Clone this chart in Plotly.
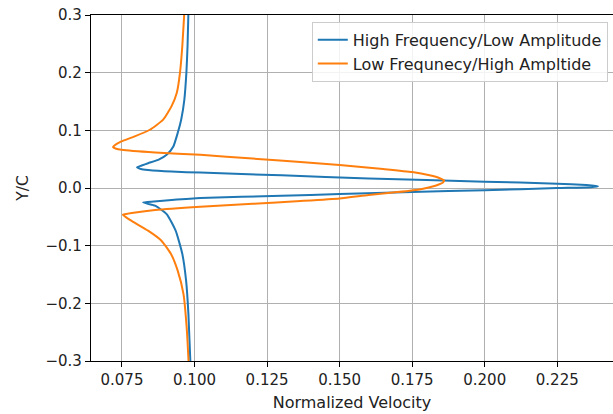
import plotly.graph_objects as go

# Velocity profiles across the wake (normalized velocity vs. Y/C)
hf_y = [0.305, 0.2466, 0.200, 0.1534, 0.1185, 0.0953, 0.072, 0.0575, 0.0487, 0.043,
        0.0390, 0.0360, 0.0330, 0.0313, 0.0284, 0.0267, 0.0220, 0.0165, 0.0110,
        0.0075, 0.0050, 0.0032, 0.0015, 0.0000, -0.0040, -0.0068, -0.0105,
        -0.0135, -0.0175, -0.0210, -0.0235, -0.0250, -0.0275, -0.0307, -0.0452,
        -0.074, -0.1145, -0.1607, -0.2185, -0.305]
hf_x = [0.0979, 0.0976, 0.0972, 0.0965, 0.0954, 0.0942, 0.0927, 0.0904, 0.0875, 0.0840,
        0.0818, 0.0802, 0.0815, 0.0840, 0.0921, 0.1020, 0.1300, 0.1600, 0.2000,
        0.2250, 0.2350, 0.2390, 0.2365, 0.2250, 0.2000, 0.1750, 0.1500,
        0.1300, 0.1020, 0.0921, 0.0860, 0.0823, 0.0840, 0.0864, 0.0904,
        0.0935, 0.0958, 0.0971, 0.0979, 0.0986]

lf_y = [0.305, 0.2466, 0.200, 0.165, 0.1419, 0.1185, 0.101, 0.0895, 0.0808, 0.0740,
        0.0709, 0.0680, 0.0662, 0.0615, 0.0575, 0.0510, 0.0450, 0.0400, 0.0330,
        0.0277, 0.0220, 0.0170, 0.0130, 0.0090, 0.0040, -0.0020, -0.0070,
        -0.0120, -0.0180, -0.0225, -0.0275, -0.0325, -0.0382, -0.0430, -0.0463,
        -0.0500, -0.0567, -0.074, -0.0914, -0.1145, -0.1433, -0.184, -0.2416, -0.305]
lf_x = [0.0965, 0.0958, 0.0950, 0.0939, 0.0921, 0.0892, 0.0846, 0.0794, 0.0748, 0.0725,
        0.0719, 0.0730, 0.0748, 0.0864, 0.1020, 0.1200, 0.1365, 0.1500, 0.1650,
        0.1750, 0.1810, 0.1845, 0.1860, 0.1855, 0.1830, 0.1780, 0.1700,
        0.1600, 0.1500, 0.1365, 0.1200, 0.1020, 0.0864, 0.0790, 0.0753,
        0.0762, 0.0782, 0.0840, 0.0886, 0.0919, 0.0942, 0.0962, 0.0973, 0.0980]

x_ticks = [0.075, 0.100, 0.125, 0.150, 0.175, 0.200, 0.225]
y_ticks = [-0.3, -0.2, -0.1, 0.0, 0.1, 0.2, 0.3]

FONT = "DejaVu Sans"
TXT = "#222222"

fig = go.Figure()
fig.add_trace(go.Scatter(x=hf_x, y=hf_y, mode="lines", name="High Frequency/Low Amplitude",
                         line=dict(color="#1f77b4", width=2, shape="spline", smoothing=0.5)))
fig.add_trace(go.Scatter(x=lf_x, y=lf_y, mode="lines", name="Low Frequnecy/High Ampltide",
                         line=dict(color="#ff7f0e", width=2, shape="spline", smoothing=0.5)))

fig.update_layout(
    width=613, height=414,
    margin=dict(l=91, r=0, t=15, b=53),
    paper_bgcolor="white", plot_bgcolor="white",
    font=dict(family=FONT, size=15, color=TXT),
    legend=dict(x=0.99, y=0.98, xanchor="right", yanchor="top",
                bgcolor="rgba(255,255,255,0.85)", bordercolor="#cccccc", borderwidth=1,
                font=dict(family=FONT, size=16, color=TXT),
                tracegroupgap=0, itemwidth=30),
    showlegend=True,
)
fig.update_xaxes(
    range=[0.06433, 0.2442], tickvals=x_ticks, tickformat=".3f",
    showgrid=True, gridcolor="#b0b0b0", gridwidth=1,
    showline=True, linecolor="black", linewidth=1.2, mirror=True,
    ticks="outside", ticklen=5, tickcolor="black", tickwidth=1,
    zeroline=False,
    title=dict(text="Normalized Velocity", standoff=8, font=dict(size=16)),
    tickfont=dict(size=15),
)
fig.update_yaxes(
    range=[-0.3, 0.3], tickvals=y_ticks, tickformat=".1f",
    showgrid=True, gridcolor="#b0b0b0", gridwidth=1,
    showline=True, linecolor="black", linewidth=1.2, mirror=False,
    ticks="outside", ticklen=5, tickcolor="black", tickwidth=1,
    zeroline=False,
    title=dict(text="Y/C", standoff=13, font=dict(size=15.5)),
    tickfont=dict(size=15),
)

fig.write_html("out.html")
